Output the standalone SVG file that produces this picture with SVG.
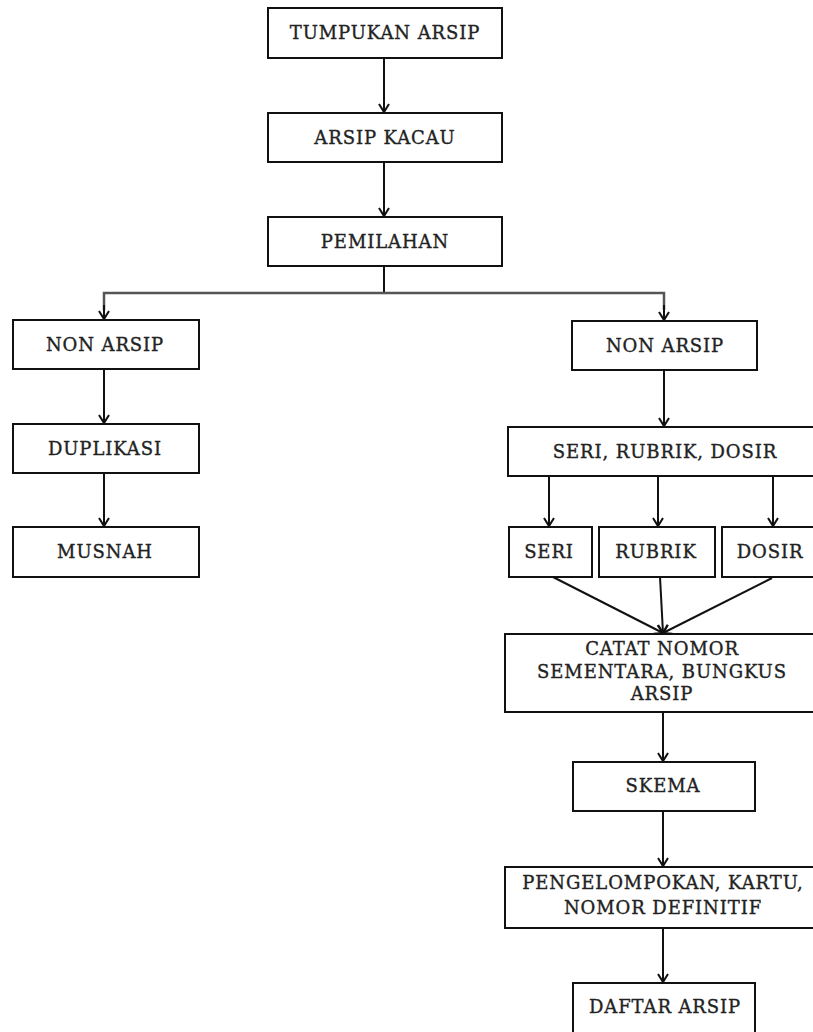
<svg xmlns="http://www.w3.org/2000/svg" width="813" height="1032" viewBox="0 0 813 1032">
<defs>
<style>
.box{fill:#fff;stroke:#111;stroke-width:2}
.t{font-family:"DejaVu Serif","Liberation Serif",serif;font-size:18px;fill:#222;stroke:#222;stroke-width:0.35;text-anchor:middle;letter-spacing:0.9px}
.c{fill:none;stroke:#111;stroke-width:2}
.h{fill:none;stroke:#555;stroke-width:2.5}
</style>
<marker id="ah" viewBox="-10 -7 12 14" refX="0" refY="0" markerWidth="12" markerHeight="14" markerUnits="userSpaceOnUse" orient="auto">
<path d="M-8,-5 L0,0 L-8,5" fill="none" stroke="#111" stroke-width="2"/>
</marker>
</defs>
<rect width="813" height="1032" fill="#fff"/>
<g id="connectors">
<line class="c" x1="384" y1="58" x2="384" y2="112" marker-end="url(#ah)"/>
<line class="c" x1="384" y1="162" x2="384" y2="216" marker-end="url(#ah)"/>
<line class="c" x1="384" y1="266" x2="384" y2="293"/>
<polyline class="h" points="104,310 104,293 664,293 664,310"/>
<line class="c" x1="104" y1="305" x2="104" y2="319" marker-end="url(#ah)"/>
<line class="c" x1="664" y1="305" x2="664" y2="320" marker-end="url(#ah)"/>
<line class="c" x1="104" y1="369" x2="104" y2="423" marker-end="url(#ah)"/>
<line class="c" x1="104" y1="473" x2="104" y2="526" marker-end="url(#ah)"/>
<line class="c" x1="664" y1="370" x2="664" y2="426" marker-end="url(#ah)"/>
<line class="c" x1="549" y1="476" x2="549" y2="526" marker-end="url(#ah)"/>
<line class="c" x1="658" y1="476" x2="658" y2="526" marker-end="url(#ah)"/>
<line class="c" x1="773" y1="476" x2="773" y2="526" marker-end="url(#ah)"/>
<line class="c" x1="553" y1="577" x2="663" y2="633" marker-end="url(#ah)"/>
<line class="c" x1="660" y1="577" x2="663" y2="633" marker-end="url(#ah)"/>
<line class="c" x1="772" y1="578" x2="663" y2="633" marker-end="url(#ah)"/>
<line class="c" x1="663" y1="712" x2="663" y2="761" marker-end="url(#ah)"/>
<line class="c" x1="663" y1="811" x2="663" y2="866" marker-end="url(#ah)"/>
<line class="c" x1="663" y1="928" x2="663" y2="982" marker-end="url(#ah)"/>
</g>
<g id="n-tumpukan"><rect class="box" x="268" y="8" width="234" height="50"/><text class="t" x="385" y="39">TUMPUKAN ARSIP</text></g>
<g id="n-kacau"><rect class="box" x="268" y="113" width="234" height="49"/><text class="t" x="385" y="144">ARSIP KACAU</text></g>
<g id="n-pemilahan"><rect class="box" x="268" y="217" width="234" height="49"/><text class="t" x="385" y="248">PEMILAHAN</text></g>
<g id="n-nonarsip-l"><rect class="box" x="13" y="320" width="186" height="49"/><text class="t" x="105" y="351">NON ARSIP</text></g>
<g id="n-duplikasi"><rect class="box" x="13" y="424" width="186" height="49"/><text class="t" x="105" y="455">DUPLIKASI</text></g>
<g id="n-musnah"><rect class="box" x="13" y="527" width="186" height="50"/><text class="t" x="105" y="558">MUSNAH</text></g>
<g id="n-nonarsip-r"><rect class="box" x="572" y="321" width="185" height="49"/><text class="t" x="665" y="352">NON ARSIP</text></g>
<g id="n-srd"><rect class="box" x="508" y="427" width="312" height="49"/><text class="t" x="665" y="458">SERI, RUBRIK, DOSIR</text></g>
<g id="n-seri"><rect class="box" x="509" y="527" width="83" height="50"/><text class="t" x="549" y="558">SERI</text></g>
<g id="n-rubrik"><rect class="box" x="599" y="527" width="116" height="50"/><text class="t" x="656" y="558">RUBRIK</text></g>
<g id="n-dosir"><rect class="box" x="722" y="527" width="100" height="50"/><text class="t" x="770" y="558">DOSIR</text></g>
<g id="n-catat"><rect class="box" x="505" y="634" width="320" height="78"/><text class="t" x="662" y="655">CATAT NOMOR</text><text class="t" x="662" y="678">SEMENTARA, BUNGKUS</text><text class="t" x="662" y="700">ARSIP</text></g>
<g id="n-skema"><rect class="box" x="573" y="762" width="182" height="49"/><text class="t" x="663" y="792">SKEMA</text></g>
<g id="n-pengelompokan"><rect class="box" x="505" y="867" width="320" height="61"/><text class="t" x="663" y="889">PENGELOMPOKAN, KARTU,</text><text class="t" x="663" y="914">NOMOR DEFINITIF</text></g>
<g id="n-daftar"><rect class="box" x="573" y="983" width="182" height="60"/><text class="t" x="665" y="1013">DAFTAR ARSIP</text></g>
</svg>
